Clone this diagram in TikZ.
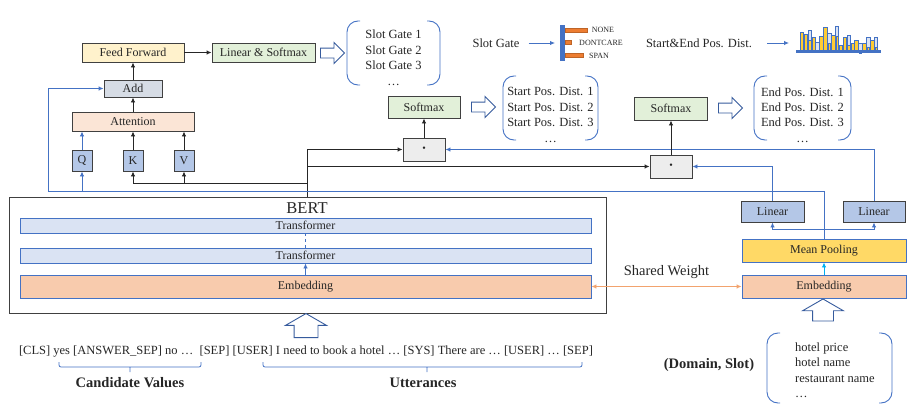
\documentclass[tikz,border=0pt]{standalone}
\usepackage{fontspec}
\setmainfont{Liberation Serif}
\usepackage{tikz}
\usetikzlibrary{arrows.meta,positioning,calc,shapes.arrows}
\definecolor{ink}{RGB}{38,38,38}
\definecolor{edge}{RGB}{64,64,64}
\definecolor{lineblue}{RGB}{68,114,196}
\definecolor{ffyellow}{RGB}{255,242,204}
\definecolor{smgreen}{RGB}{226,240,217}
\definecolor{addgray}{RGB}{214,220,229}
\definecolor{attpeach}{RGB}{251,229,214}
\definecolor{qkvblue}{RGB}{180,199,231}
\definecolor{dotgray}{RGB}{237,237,237}
\definecolor{trblue}{RGB}{218,227,243}
\definecolor{embpeach}{RGB}{248,203,173}
\definecolor{mpyellow}{RGB}{255,217,102}
\definecolor{skyarrow}{RGB}{0,176,240}
\definecolor{shared}{RGB}{242,163,110}
\definecolor{barorange}{RGB}{237,125,49}
\definecolor{histyellow}{RGB}{255,204,51}
\tikzset{
  block/.style={draw=edge,line width=0.9pt,inner sep=0pt,text=ink,
    font=\fontsize{12}{14}\selectfont},
  layer/.style={draw=lineblue,line width=0.9pt,inner sep=0pt,text=ink,
    font=\fontsize{12}{14}\selectfont},
  txt/.style={inner sep=0pt,text=ink,font=\fontsize{12.5}{15.5}\selectfont},
  boldtxt/.style={inner sep=0pt,text=ink,font=\bfseries\fontsize{14.5}{16}\selectfont},
  tinytxt/.style={inner sep=0pt,text=ink,font=\fontsize{8}{9}\selectfont},
  blk/.style={line width=0.9pt,ink,-{Latex[length=5pt,width=4.5pt]}},
  blu/.style={line width=0.9pt,lineblue,-{Latex[length=5pt,width=4.5pt]}},
  brk/.style={line width=0.9pt,lineblue,rounded corners=11pt},
  hollow/.style={single arrow,draw=lineblue!80!black,fill=white,line width=0.9pt,
    inner xsep=1pt,inner ysep=4.5pt,single arrow head extend=5.5pt,minimum height=24pt,
    single arrow head indent=0pt},
  hollowup/.style={single arrow,draw=lineblue!80!black,fill=white,line width=0.9pt,
    rotate=90,inner xsep=0.5pt,single arrow head indent=0pt,single arrow tip angle=120}
}

\begin{document}
\begin{tikzpicture}[x=1pt,y=-1pt]
  \useasboundingbox (0,0) rectangle (914,415);

  % slot gate branch
  \node[block,fill=ffyellow,minimum width=102pt,minimum height=19pt] (ff) at (133,52.5) {Feed Forward};
  \node[block,fill=smgreen,minimum width=103pt,minimum height=19pt] (linsm) at (263.5,52.5) {Linear \& Softmax};
  \node[block,fill=addgray,minimum width=58pt,minimum height=17pt] (add) at (133,88.5) {Add};
  \node[block,fill=attpeach,minimum width=122pt,minimum height=19pt] (att) at (133,121.5) {Attention};
  \foreach \n/\x/\t in {q/82/Q,k/133/K,v/184/V}
    \node[block,fill=qkvblue,minimum width=20pt,minimum height=21pt] (\n) at (\x,160.5) {\t};
  \node[hollow] (slotarrow) at (330,53) {};
  \node[txt,align=center] (slotlist) at (393.5,58) {Slot Gate 1\\Slot Gate 2\\Slot Gate 3\\\dots};

  % span branch
  \node[block,fill=smgreen,minimum width=72pt,minimum height=22pt] (sm1) at (424,107) {Softmax};
  \node[block,fill=dotgray,minimum width=42pt,minimum height=23pt,font=\fontsize{10}{11}\selectfont] (dot1) at (424,149.5) {\textbullet};
  \node[block,fill=smgreen,minimum width=73pt,minimum height=23pt] (sm2) at (671,108.5) {Softmax};
  \node[block,fill=dotgray,minimum width=42pt,minimum height=23pt,font=\fontsize{10}{11}\selectfont] (dot2) at (671,166.5) {\textbullet};
  \node[hollow] (startarrow) at (481,107) {};
  \node[hollow] (endarrow) at (728,108) {};
  \node[txt,align=center] (startlist) at (550.5,115) {Start Pos. Dist. 1\\Start Pos. Dist. 2\\Start Pos. Dist. 3\\\dots};
  \node[txt,align=center] (endlist) at (802.5,115) {End Pos. Dist. 1\\End Pos. Dist. 2\\End Pos. Dist. 3\\\dots};

  % legend
  \node[txt] (sgtext) at (496,43) {Slot Gate};
  \coordinate (sgicon) at (555,43);
  \draw[blu] ([xshift=9pt]sgtext.east) -- (sgicon);
  \fill[lineblue] (560,25) rectangle (565,61);
  \foreach \ya/\xe in {28/587,40/571,53/583}
    \draw[barorange!80!black,fill=barorange,line width=0.4pt] (565,\ya) rectangle (\xe,\ya+4);
  \node[tinytxt] at (603,30) {NONE};
  \node[tinytxt] at (601,43) {DONTCARE};
  \node[tinytxt] at (599,56) {SPAN};
  \node[txt] (sepd) at (699,43) {Start\&End Pos. Dist.};
  \coordinate (histo) at (789,43);
  \draw[blu] ([xshift=15pt]sepd.east) -- (histo);
  \foreach \i/\top/\kind in {0/32/0,1/34/0,2/30/1,3/37/0,4/42/1,5/36/0,6/27/0,7/33/1,8/35/0,9/26/1,
                             10/45/0,11/37/0,12/35/1,13/43/0,14/40/0,15/43/1,16/43/0,17/37/1,18/40/0,19/37/1}
    {\ifnum\kind=1
       \draw[lineblue,fill=trblue,line width=0.5pt] (800+\i*3.9,\top) rectangle (803.5+\i*3.9,50);
       \draw[lineblue,fill=histyellow,line width=0.4pt] (800.6+\i*3.9,\top+10) rectangle (802.9+\i*3.9,50);
     \else
       \draw[lineblue,fill=histyellow,line width=0.4pt] (800+\i*3.9,\top) rectangle (803.5+\i*3.9,50);
     \fi}
  \fill[lineblue] (796,49.5) rectangle (881,52.5);

  % BERT encoder
  \node[draw=edge,line width=0.9pt,minimum width=597pt,minimum height=116pt] (bert) at (307.5,255) {};
  \node[txt,font=\fontsize{16.5}{18}\selectfont] (berttitle) at (307,208) {BERT};
  \node[layer,fill=trblue,minimum width=571pt,minimum height=15pt] (tr1) at (305.5,225.5) {Transformer};
  \node[layer,fill=trblue,minimum width=571pt,minimum height=15pt] (tr2) at (305.5,255.5) {Transformer};
  \node[layer,fill=embpeach,minimum width=571pt,minimum height=23pt] (emb1) at (305.5,286.5) {Embedding};
  \draw[blu] (emb1) -- (tr2);
  \draw[line width=0.9pt,lineblue,dashed] (tr2) -- (tr1);
  \node[hollowup,inner ysep=11.5pt,single arrow head extend=8.5pt,minimum height=24pt] (inarrow) at (306,329) {};
  \node[txt] (inp) at (306,352) {[CLS] yes [ANSWER\_SEP] no \dots\ \ [SEP] [USER] I need to book a hotel \dots\ [SYS] There are \dots\ [USER] \dots\ [SEP]};
  \draw[brk,rounded corners=2pt,line width=0.8pt] (59,362) -- (59,367) -- (201,367) -- (201,362) (130,367) -- (130,372);
  \draw[brk,rounded corners=2pt,line width=0.8pt] (263,362) -- (263,367) -- (582,367) -- (582,362) (427,367) -- (427,372);
  \node[boldtxt] (candlabel) at (130,383) {Candidate Values};
  \node[boldtxt] (uttlabel) at (423,383) {Utterances};

  % slot encoder
  \node[layer,fill=embpeach,minimum width=164pt,minimum height=23pt] (emb2) at (824,286.5) {Embedding};
  \node[layer,fill=mpyellow,minimum width=164pt,minimum height=23pt] (mp) at (824,250.5) {Mean Pooling};
  \node[block,fill=qkvblue,minimum width=63pt,minimum height=21pt] (lin1) at (772.5,211.5) {Linear};
  \node[block,fill=qkvblue,minimum width=62pt,minimum height=21pt] (lin2) at (874,211.5) {Linear};
  \draw[line width=0.9pt,skyarrow,-{Latex[length=5pt,width=4.5pt]}] (emb2) -- (mp);
  \node[hollowup,inner ysep=10pt,single arrow head extend=10pt,minimum height=22pt] (dsarrow) at (823,313) {};
  \node[txt,align=left,anchor=west] (dslist) at (795,370) {hotel price\\hotel name\\restaurant name\\\dots};
  \node[boldtxt] (dslabel) at (709,365) {(Domain, Slot)};
  \draw[line width=0.9pt,shared,{Latex[length=5pt,width=4.5pt]}-{Latex[length=5pt,width=4.5pt]}] (emb1) -- (emb2)
    node[midway,above=7pt,txt,font=\fontsize{14.5}{16}\selectfont] {Shared Weight};

  % brackets
  \foreach \xa/\xb/\ya/\yb in {347/440/21/85,503/598/76/140,754/851/76/140,767/892/333/403}
    {\draw[brk] (\xa+13,\ya) -- (\xa,\ya) -- (\xa,\yb) -- (\xa+13,\yb);
     \draw[brk] (\xb-13,\ya) -- (\xb,\ya) -- (\xb,\yb) -- (\xb-13,\yb);}

  % connectors
  \draw[blk] (att) -- (add);
  \draw[blk] (add) -- (ff);
  \draw[blk] (ff) -- (linsm);
  \draw[blu] (q) -- (q |- att.south);
  \draw[blk] (k) -- (k |- att.south);
  \draw[blk] (v) -- (v |- att.south);
  \coordinate (kvbus) at (307,183);
  \coordinate (qbus) at (48,191);
  \coordinate (linbus) at (824,229);
  \draw[blk] (bert.north) |- (dot1);
  \draw[blk] (bert.north) |- (dot2);
  \draw[blk] (kvbus) -| (k);
  \draw[blk] (kvbus -| v) -- (v);
  \draw[blu] (mp.north) |- (qbus) |- (add);
  \draw[blu] (qbus -| q) -- (q);
  \draw[blu] (linbus) -| (lin1);
  \draw[blu] (linbus) -| (lin2);
  \draw[blu] (lin1) |- (dot2);
  \draw[blu] (lin2) |- (dot1);
  \draw[blk] (dot1) -- (sm1);
  \draw[blk] (dot2) -- (sm2);
\end{tikzpicture}
\end{document}
